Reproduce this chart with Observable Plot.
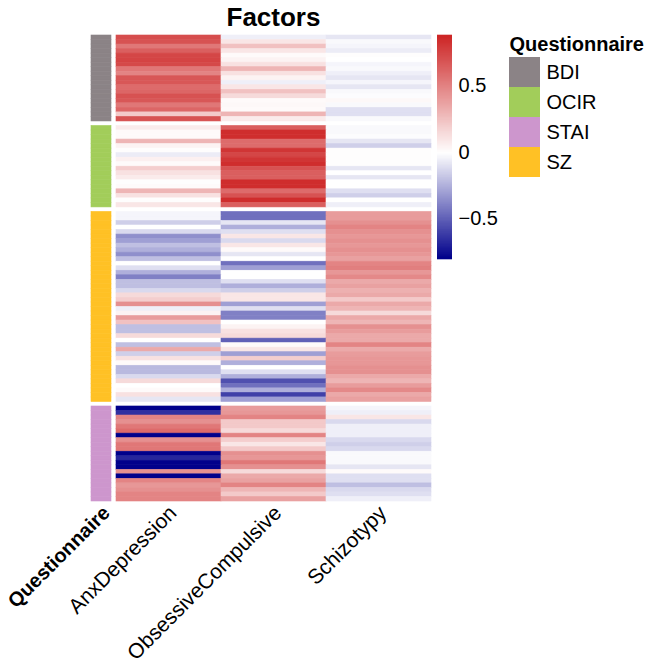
<!DOCTYPE html>
<html><head><meta charset="utf-8">
<script src="https://cdn.jsdelivr.net/npm/d3@7"></script>
<script src="https://cdn.jsdelivr.net/npm/@observablehq/plot@0.6"></script>
<style>
body{margin:0;background:#fff;}
#wrap{position:relative;width:650px;height:665px;overflow:hidden;font-family:"Liberation Sans",Arial,Helvetica,sans-serif;}
#wrap > *{position:absolute;left:0;top:0;}
#title{left:116px;width:315px;text-align:center;top:4px;font-weight:bold;font-size:26px;line-height:1;}
</style></head><body>
<div id="wrap"><div id="title">Factors</div></div>
<script>
// ---- data ----
const factors = ["AnxDepression", "ObsessiveCompulsive", "Schizotypy"];
const questionnaires = ["BDI", "OCIR", "SZ", "STAI"];       // row order in heatmap
const legendOrder = ["BDI", "OCIR", "STAI", "SZ"];         // legend order
const groupColors = ["#8B8386", "#A2CD5A", "#CD96CD", "#FFC125"]; // matches legendOrder

const bdiAnx    = [0.72, 0.70, 0.55, 0.65, 0.75, 0.76, 0.74, 0.55, 0.50, 0.68, 0.68, 0.60, 0.62, 0.70, 0.68, 0.55, 0.62, 0.22, 0.70];
const bdiOC     = [-0.05, 0.10, 0.25, 0.10, 0.02, 0.05, 0.12, 0.30, 0.12, 0.05, -0.05, 0.10, 0.25, 0.15, 0.02, 0.03, 0.02, 0.30, 0.08];
const bdiSchizo = [-0.08, -0.02, -0.03, -0.06, 0.01, 0.00, -0.03, -0.02, -0.05, -0.08, -0.03, -0.08, -0.02, -0.01, 0.03, -0.02, -0.10, -0.10, -0.02];

const ocirAnx    = [0.08, 0.02, 0.02, 0.30, 0.05, 0.01, -0.06, 0.06, 0.02, 0.20, 0.12, 0.08, 0.01, 0.02, 0.30, 0.12, 0.01, 0.10];
const ocirOC     = [0.65, 0.85, 0.85, 0.60, 0.60, 0.82, 0.75, 0.82, 0.85, 0.70, 0.65, 0.65, 0.85, 0.85, 0.60, 0.70, 0.85, 0.65];
const ocirSchizo = [-0.02, -0.02, -0.01, -0.08, -0.15, 0.01, 0.01, 0.01, 0.01, -0.08, 0.00, -0.08, 0.00, 0.00, -0.10, -0.15, 0.00, -0.05];

const szAnx = [-0.03, -0.03, -0.15, 0.00, -0.12, -0.35, -0.30, -0.20, -0.25, -0.35, -0.20, 0.00, -0.10, -0.25, -0.40, -0.20, -0.20, -0.12, 0.15, 0.20,
               0.45, -0.05, 0.05, 0.40, 0.25, -0.20, -0.20, 0.15, 0.00, -0.20, 0.35, -0.15, 0.12, 0.02, -0.22, -0.22, -0.12, 0.15, 0.00, 0.02, 0.12, -0.08];
const szOC  = [-0.45, -0.45, -0.08, -0.25, -0.10, 0.10, -0.12, 0.10, 0.02, -0.08, 0.00, -0.45, -0.30, 0.00, 0.00, -0.10, -0.25, -0.15, 0.10, 0.10,
               -0.30, -0.10, -0.40, -0.40, 0.00, 0.05, 0.12, 0.15, -0.50, 0.02, 0.10, -0.30, 0.20, -0.25, 0.00, -0.10, -0.25, -0.55, -0.45, -0.25, -0.60, -0.30];
const szSchizo = [0.40, 0.40, 0.45, 0.50, 0.45, 0.42, 0.45, 0.42, 0.45, 0.42, 0.38, 0.50, 0.52, 0.42, 0.48, 0.35, 0.38, 0.32, 0.35, 0.22,
                  0.35, 0.30, 0.15, 0.35, 0.30, 0.45, 0.40, 0.35, 0.35, 0.50, 0.35, 0.40, 0.42, 0.42, 0.45, 0.45, 0.35, 0.30, 0.40, 0.48, 0.35, 0.38];

const staiAnx    = [-0.80, -0.65, 0.50, 0.45, 0.55, 0.60, -0.80, 0.45, 0.55, 0.55, -0.80, -0.68, -0.80, -0.80, 0.45, -0.80, 0.50, 0.42, 0.45, 0.50, 0.50];
const staiOC     = [0.40, 0.42, 0.50, 0.22, 0.22, 0.15, 0.50, 0.20, 0.10, 0.22, 0.45, 0.42, 0.55, 0.45, 0.15, 0.35, 0.38, 0.50, 0.30, 0.22, 0.38];
const staiSchizo = [-0.03, -0.05, 0.10, -0.12, -0.05, -0.05, -0.05, -0.12, -0.15, -0.12, -0.02, -0.02, -0.02, -0.08, 0.02, -0.10, -0.10, -0.20, -0.12, -0.10, -0.05];

const colorTicks = [-0.5, 0, 0.5];
const colorMin = -0.8, colorMax = 0.88;

// ---- build tables ----
const byGroup = {
  BDI:  [bdiAnx, bdiOC, bdiSchizo],
  OCIR: [ocirAnx, ocirOC, ocirSchizo],
  SZ:   [szAnx, szOC, szSchizo],
  STAI: [staiAnx, staiOC, staiSchizo]
};
const rows = [], cells = [], yDomain = [];
questionnaires.forEach((q, gi) => {
  if (gi > 0) yDomain.push("gap" + gi);
  byGroup[q][0].forEach((_, i) => {
    const item = q + "_" + (i + 1);
    yDomain.push(item);
    rows.push({item, group: q});
    factors.forEach((f, fi) => cells.push({item, factor: f, value: byGroup[q][fi][i]}));
  });
});

const FONT = '"Liberation Sans", Arial, Helvetica, sans-serif';
const colorScale = {type: "linear", domain: [colorMin, 0, colorMax], range: ["#00008B", "#FFFFFF", "#CD2626"], interpolate: "rgb"};
const groupScale = {type: "ordinal", domain: legendOrder, range: groupColors};
const H = 665, MT = 35, MB = 164;
const wrap = document.getElementById("wrap");

// annotation column
wrap.appendChild(Plot.plot({
  width: 120, height: H, marginLeft: 91, marginRight: 9, marginTop: MT, marginBottom: MB,
  style: {background: "transparent", fontFamily: FONT, fontSize: "20px", overflow: "visible"},
  x: {domain: ["Questionnaire"], padding: 0, round: false, label: null},
  y: {domain: yDomain, padding: 0, round: false, axis: null},
  color: groupScale,
  marks: [
    Plot.cell(rows, {x: () => "Questionnaire", y: "item", fill: "group", stroke: "group", strokeWidth: 0.6}),
    Plot.axisX({tickRotate: -45, tickSize: 0, tickPadding: 8, dx: 5, fontSize: 20, fontWeight: "bold", label: null})
  ]
}));

// heatmap
wrap.appendChild(Plot.plot({
  width: 431, height: H, marginLeft: 116, marginRight: 0, marginTop: MT, marginBottom: MB,
  style: {background: "transparent", fontFamily: FONT, fontSize: "21px", overflow: "visible"},
  x: {domain: factors, padding: 0, round: false, label: null},
  y: {domain: yDomain, padding: 0, round: false, axis: null},
  color: colorScale,
  marks: [
    Plot.cell(cells, {x: "factor", y: "item", fill: "value", stroke: "value", strokeWidth: 0.6}),
    Plot.axisX({tickRotate: -45, tickSize: 0, tickPadding: 8, dx: 4, fontSize: 21, label: null})
  ]
}));

// colorbar
const ramp = d3.range(colorMin, colorMax + 0.0001, 0.004);
wrap.appendChild(Plot.plot({
  width: 650, height: 300, marginLeft: 437, marginRight: 198, marginTop: MT, marginBottom: 42,
  style: {background: "transparent", fontFamily: FONT, fontSize: "20px", overflow: "visible"},
  y: {domain: [colorMin, colorMax], axis: "right", ticks: colorTicks, tickSize: 0, tickPadding: 6, label: null,
      tickFormat: d => d === 0 ? "0" : (d < 0 ? "\u2212" : "") + Math.abs(d)},
  color: colorScale,
  marks: [Plot.ruleY(ramp, {y: d => d, stroke: d => d, strokeWidth: 1.6})]
}));

// questionnaire legend
wrap.appendChild(Plot.plot({
  width: 650, height: 200, marginLeft: 509, marginRight: 110, marginTop: 57, marginBottom: 23,
  style: {background: "transparent", fontFamily: FONT, fontSize: "20px", overflow: "visible"},
  x: {domain: ["Questionnaire"], padding: 0, round: false, axis: null},
  y: {domain: legendOrder, padding: 0, round: false, axis: null},
  color: groupScale,
  marks: [
    Plot.cell(legendOrder, {x: () => "Questionnaire", y: d => d, fill: d => d}),
    Plot.text(legendOrder, {y: d => d, frameAnchor: "right", textAnchor: "start", dx: 6, text: d => d, fontSize: 20}),
    Plot.text(["Questionnaire"], {frameAnchor: "top-left", textAnchor: "start", lineAnchor: "middle", dy: -13, text: d => d, fontWeight: "bold", fontSize: 20})
  ]
}));
</script>
</body></html>
